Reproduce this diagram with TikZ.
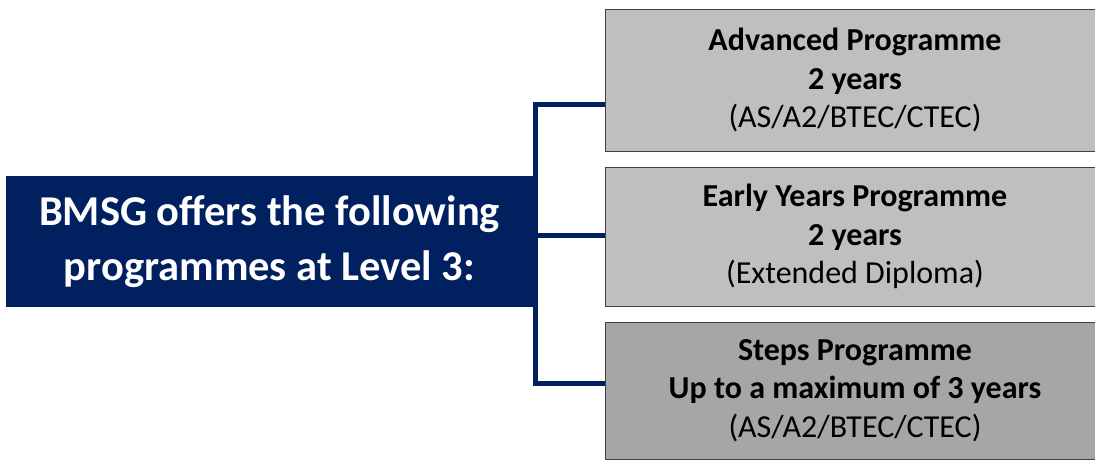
\documentclass[tikz,border=0pt]{standalone}
\usepackage{fontspec}
\setmainfont{Carlito}
\usetikzlibrary{positioning}
\definecolor{bmsgnavy}{RGB}{0,32,96}
\definecolor{progfill}{RGB}{191,191,191}
\definecolor{stepsfill}{RGB}{166,166,166}

\begin{document}
\begin{tikzpicture}[x=1pt,y=-1pt,
	mainbox/.style={fill=bmsgnavy, text=white, align=center, inner sep=0pt,
		minimum width=527pt, minimum height=131pt,
		font=\bfseries\fontsize{42.5}{55}\selectfont},
	progbox/.style={draw=black!75, line width=0.8pt, fill=progfill, align=center,
		inner sep=0pt, minimum width=500pt, font=\fontsize{32}{38.5}\selectfont},
	link/.style={draw=bmsgnavy, line width=5pt}]
	\useasboundingbox (0,0) rectangle (1095,459);
	\node[mainbox] (main) at (269.5,241.5) {BMSG offers the following\\programmes at Level 3:};
	\node[progbox, minimum height=142pt] (adv) at (855,80) {\textbf{Advanced Programme}\\\textbf{2 years}\\(AS/A2/BTEC/CTEC)};
	\node[progbox, minimum height=139pt] (early) at (855,236.5) {\textbf{Early Years Programme}\\\textbf{2 years}\\(Extended Diploma)};
	\node[progbox, minimum height=137pt, fill=stepsfill] (steps) at (855,390.5) {\textbf{Steps Programme}\\\textbf{Up to a maximum of 3 years}\\(AS/A2/BTEC/CTEC)};
	% spine joining the boxes
	\coordinate (spinetop) at (535.5,104.5);
	\coordinate (spinemid) at (535.5,235.5);
	\coordinate (spinebot) at (535.5,383.5);
	\draw[link] (adv.west |- spinetop) -- (spinetop) -- (spinebot) -- (steps.west |- spinebot);
	\draw[link] (spinemid) -- (early.west |- spinemid);
\end{tikzpicture}
\end{document}
